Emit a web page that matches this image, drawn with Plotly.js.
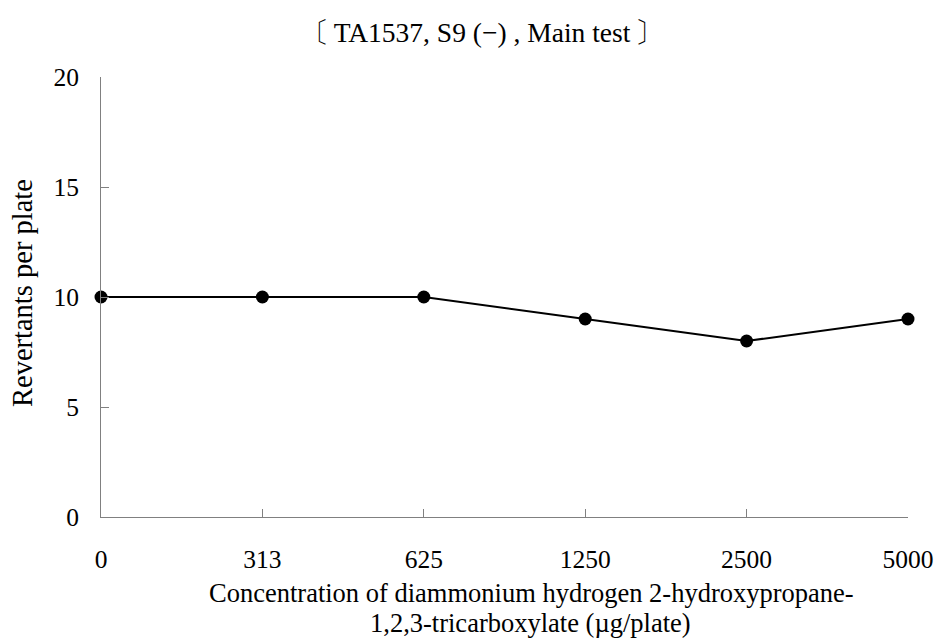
<!DOCTYPE html>
<html>
<head>
<meta charset="utf-8">
<script src="https://cdn.plot.ly/plotly-3.0.1.min.js"></script>
<style>html,body{margin:0;padding:0;background:#fff;}#chart{width:941px;height:641px;}</style>
</head>
<body>
<div id="chart"></div>
<script>
const categories = ["0", "313", "625", "1250", "2500", "5000"];
const revertants = [10, 10, 10, 9, 8, 9];
const yTickVals = [0, 5, 10, 15, 20];
const titleText = "〔 TA1537, S9 (−) , Main test 〕";
const xTitleLine1 = "Concentration of diammonium hydrogen 2-hydroxypropane-";
const xTitleLine2 = "1,2,3-tricarboxylate (µg/plate)";
const yTitleText = "Revertants per plate";

const FONT = "Liberation Serif, Times New Roman, Noto Serif CJK JP, Noto Sans CJK JP, serif";

const trace = {
  x: categories,
  y: revertants,
  type: "scatter",
  mode: "lines+markers",
  line: {color: "#000", width: 2},
  marker: {color: "#000", size: 13},
  cliponaxis: false,
  hoverinfo: "skip"
};

const layout = {
  width: 941, height: 641,
  margin: {l: 101, r: 33, t: 77, b: 124, pad: 0},
  paper_bgcolor: "#fff", plot_bgcolor: "#fff",
  showlegend: false,
  font: {family: FONT, size: 26, color: "#000"},
  title: {
    text: titleText,
    font: {family: FONT, size: 27.5, color: "#000"},
    xref: "container", yref: "container",
    x: 482/941, xanchor: "center",
    y: 1 - 32/641, yanchor: "middle"
  },
  xaxis: {
    type: "category",
    range: [0, 5],
    showgrid: false, zeroline: false,
    showline: true, linecolor: "#808080", linewidth: 1,
    ticks: "inside", ticklen: 8, tickcolor: "#808080", tickwidth: 1,
    tickfont: {family: FONT, size: 25.5, color: "#000"},
    ticklabelstandoff: 19,
    fixedrange: true
  },
  yaxis: {
    range: [0, 20],
    tickvals: yTickVals,
    ticktext: yTickVals.map(String),
    showgrid: false, zeroline: false,
    showline: true, linecolor: "#808080", linewidth: 1,
    ticks: "inside", ticklen: 8, tickcolor: "#808080", tickwidth: 1,
    tickfont: {family: FONT, size: 25.5, color: "#000"},
    ticklabelstandoff: 16,
    fixedrange: true
  },
  annotations: [
    {
      text: xTitleLine1,
      xref: "paper", yref: "paper",
      x: (531 - 101) / 807, y: -(593 - 517) / 440,
      xanchor: "center", yanchor: "middle",
      showarrow: false,
      font: {family: FONT, size: 26.5, color: "#000"}
    },
    {
      text: xTitleLine2,
      xref: "paper", yref: "paper",
      x: (530 - 101) / 807, y: -(623 - 517) / 440,
      xanchor: "center", yanchor: "middle",
      showarrow: false,
      font: {family: FONT, size: 26.5, color: "#000"}
    },
    {
      text: yTitleText,
      xref: "paper", yref: "paper",
      x: -(101 - 22) / 807, y: (517 - 293) / 440,
      xanchor: "center", yanchor: "middle",
      textangle: -90,
      showarrow: false,
      font: {family: FONT, size: 28.5, color: "#000"}
    }
  ]
};

Plotly.newPlot("chart", [trace], layout, {displayModeBar: false, staticPlot: true});
</script>
</body>
</html>
